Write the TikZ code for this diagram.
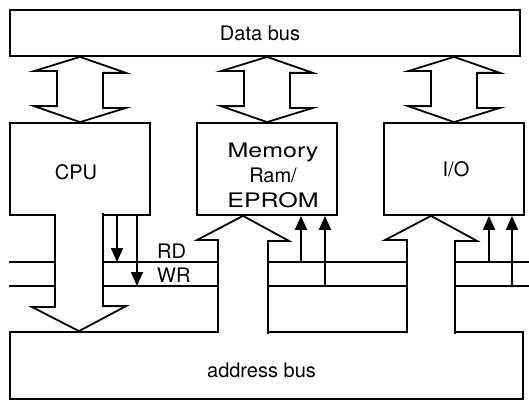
\documentclass[tikz,border=0pt]{standalone}
\usepackage{fontspec}
\setmainfont{TeX Gyre Heros}
\usetikzlibrary{arrows.meta}

\tikzset{
  busbox/.style={draw, line width=1.8pt, inner sep=0pt},
  blockarrow/.style={draw, fill=white, line width=1.8pt, line join=miter},
  ctrlline/.style={line width=1.8pt},
  ctrlarrow/.style={line width=1.8pt, -{Triangle[width=12pt,length=14pt]}},
  boxtext/.style={font=\fontsize{20}{25}\selectfont, inner sep=0pt}
}

\begin{document}
\begin{tikzpicture}[x=1pt, y=-1pt]
  \useasboundingbox (0,0) rectangle (529,401);

  % Boxes
  \node[busbox, minimum width=510pt, minimum height=46pt] (databus) at (265,33) {};
  \node[busbox, minimum width=140pt, minimum height=92pt] (cpu) at (80,169) {};
  \node[busbox, minimum width=140pt, minimum height=92pt] (mem) at (267,169) {};
  \node[busbox, minimum width=140pt, minimum height=92pt] (io) at (454,169) {};
  \node[busbox, minimum width=513pt, minimum height=67pt] (addrbus) at (266.5,365.5) {};

  % Texts
  \node[boxtext] (databustext) at (260,33) {Data bus};
  \node[boxtext] (cputext) at (76,172.5) {CPU};
  \node[boxtext, align=center] (memtext) at (273,175)
    {\scalebox{1.25}[1]{Memory}\\Ram/\\\scalebox{1.25}[1]{EPROM}};
  \node[boxtext] (iotext) at (456,169.5) {I/O};
  \node[boxtext] (addrtext) at (261.5,370) {address bus};

  % RD and WR lines
  \coordinate (rdL) at (9,262);  \coordinate (rdR) at (529,262);
  \coordinate (wrL) at (9,286);  \coordinate (wrR) at (529,286);
  \draw[ctrlline] (rdL) -- (rdR);
  \draw[ctrlline] (wrL) -- (wrR);
  \node[boxtext, anchor=base west] (rdtext) at (157,258) {RD};
  \node[boxtext, anchor=base west] (wrtext) at (157,282) {WR};

  % Data bus arrows
  \foreach \blk in {cpu,mem,io}
    \draw[blockarrow] (databus.south -| \blk.north) -- ++(46,16) -- ++(-23,0) -- ++(0,35) -- ++(23,0)
      -- (\blk.north) -- ++(-46,-16) -- ++(23,0) -- ++(0,-35) -- ++(-23,0) -- cycle;

  % Address bus arrows
  \coordinate (cpuout) at (79,214);
  \coordinate (memin) at (243,333);
  \coordinate (ioin) at (431,333);
  \draw[blockarrow] (cpuout) ++(-24,0) -- ++(0,93) -- ++(-23,0) -- (addrbus.north -| cpuout)
    -- ++(47,-25) -- ++(-23,0) -- ++(0,-93);
  \draw[blockarrow] (memin) ++(-25,0) -- ++(0,-93) -- ++(-21,0) -- (mem.south -| memin)
    -- ++(46,25) -- ++(-21,0) -- ++(0,93);
  \draw[blockarrow] (ioin) ++(-24,0) -- ++(0,-93) -- ++(-22,0) -- (io.south -| ioin)
    -- ++(46,25) -- ++(-22,0) -- ++(0,93);

  % Control signal arrows
  \coordinate (cpurd) at (117,262);  \coordinate (cpuwr) at (137,286);
  \coordinate (memrd) at (301,262);  \coordinate (memwr) at (325,286);
  \coordinate (iord) at (489,262);   \coordinate (iowr) at (512,286);
  \draw[ctrlarrow] (cpu.south -| cpurd) -- (cpurd);
  \draw[ctrlarrow] (cpu.south -| cpuwr) -- (cpuwr);
  \draw[ctrlarrow] (memrd) -- (mem.south -| memrd);
  \draw[ctrlarrow] (memwr) -- (mem.south -| memwr);
  \draw[ctrlarrow] (iord) -- (io.south -| iord);
  \draw[ctrlarrow] (iowr) -- (io.south -| iowr);
\end{tikzpicture}
\end{document}
